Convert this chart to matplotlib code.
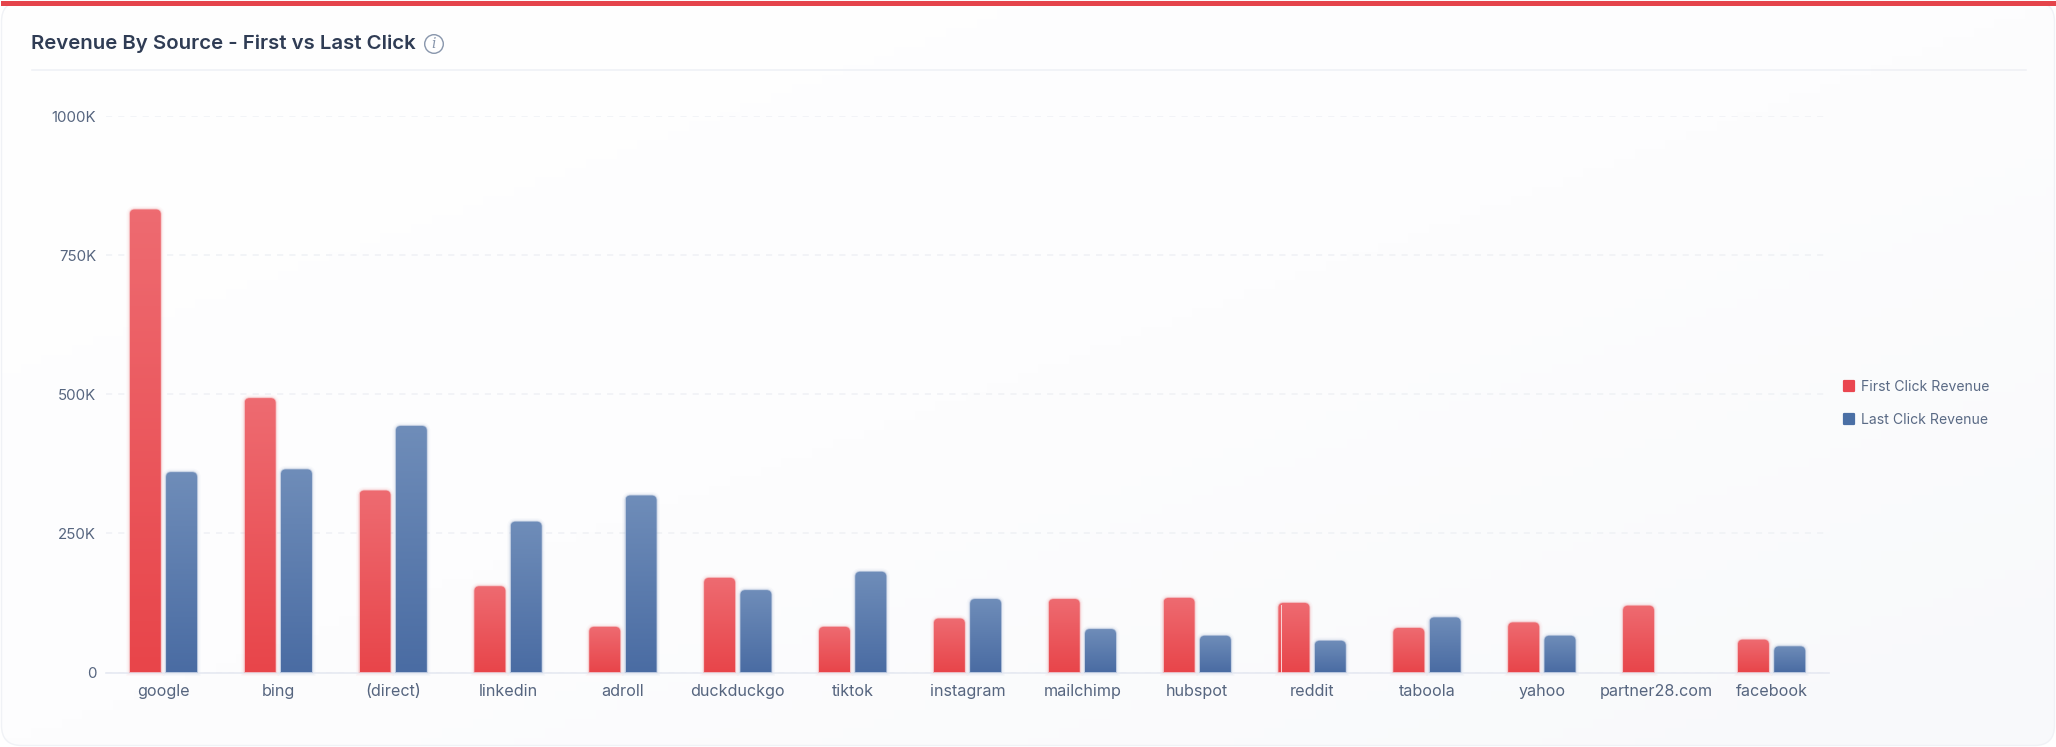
import matplotlib
matplotlib.use('Agg')
import matplotlib.pyplot as plt
import numpy as np
from matplotlib.lines import Line2D
from matplotlib.markers import MarkerStyle
from matplotlib.patches import PathPatch, Rectangle, FancyBboxPatch, Circle
from matplotlib.path import Path
from matplotlib.colors import LinearSegmentedColormap

sources = ['google', 'bing', '(direct)', 'linkedin', 'adroll', 'duckduckgo', 'tiktok', 'instagram',
           'mailchimp', 'hubspot', 'reddit', 'taboola', 'yahoo', 'partner28.com', 'facebook']
first_click = [832, 493, 327, 155, 82, 170, 82, 97, 132, 134, 125, 80, 90, 120, 59]
last_click = [360, 365, 443, 271, 318, 148, 181, 132, 78, 66, 57, 99, 66, 0, 47]
y_ticks = [0, 250, 500, 750, 1000]
y_labels = ['0', '250K', '500K', '750K', '1000K']

W, H = 2056, 747
plt.rcParams['font.family'] = ['Inter', 'DejaVu Sans']
fig = plt.figure(figsize=(W / 100, H / 100), dpi=100)

# page background, full figure in pixel coords
bg = fig.add_axes([0, 0, 1, 1], zorder=0)
bg.set_xlim(0, W)
bg.set_ylim(H, 0)
bg.axis('off')
gx, gy = np.meshgrid(np.linspace(0, 1, 200), np.linspace(0, 1, 80))
cmap_bg = LinearSegmentedColormap.from_list('bg', ['#ffffff', '#fdfdfe', '#f8f9fb'])
card = FancyBboxPatch((1.5, 1.5), W - 3, H - 3, boxstyle='round,pad=0,rounding_size=20',
                      fc='none', ec='#f0f2f6', lw=1.0)
bg.add_patch(card)
im = bg.imshow((gx + gy) / 2, cmap=cmap_bg, extent=[0, W, H, 0], aspect='auto', zorder=1)
im.set_clip_path(card)
bg.set_xlim(0, W)
bg.set_ylim(H, 0)
card.set_zorder(2)
bg.add_patch(Rectangle((1, 1), W - 1, 4.5, color='#e5444b', lw=0, zorder=3))
bg.plot([32, 2026], [70, 70], color='#eef0f5', lw=1.1, zorder=3)
bg.text(31, 43.5, 'Revenue By Source - First vs Last Click', fontsize=14.7, fontweight='semibold',
        color='#2f3c54', va='center', ha='left', zorder=4)
bg.add_patch(Circle((434, 44), 9.3, fc='none', ec='#8795ab', lw=1.0, zorder=4))
bg.text(434, 44, 'i', fontsize=10, style='italic', color='#8795ab', ha='center', va='center',
        family='DejaVu Serif', zorder=4)

ax = fig.add_axes([106 / W, 1 - 672.5 / H, (1829 - 106) / W, (672.5 - 116) / H], zorder=1)
ax.patch.set_alpha(0)
x = np.arange(len(sources))
bar_w = 0.27
off = 0.158
ax.set_xlim(-0.5, len(sources) - 0.5)
ax.set_ylim(0, 1000)

def grad_bar(xc, val, top, bottom, edge):
    # round the top corners, 5px, flat at the baseline
    if val <= 0:
        return
    l, r = xc - bar_w / 2, xc + bar_w / 2
    rx, ry = 5 / 114.87, 5 / 0.5565
    verts = [(l, 0), (l, val - ry), (l, val), (l + rx, val), (r - rx, val), (r, val), (r, val - ry), (r, 0), (l, 0)]
    codes = [Path.MOVETO, Path.LINETO, Path.CURVE3, Path.CURVE3, Path.LINETO, Path.CURVE3, Path.CURVE3,
             Path.LINETO, Path.CLOSEPOLY]
    path = Path(verts, codes)
    for lw, a in [(5, 0.05), (3, 0.10)]:
        ax.add_patch(PathPatch(path, fc='none', ec=edge, lw=lw, alpha=a, zorder=2, clip_on=False))
    patch = PathPatch(path, fc='none', ec=edge, lw=1.2, alpha=0.5, zorder=3)
    ax.add_patch(patch)
    cm = LinearSegmentedColormap.from_list('b', [top, bottom])
    img = ax.imshow(np.linspace(0, 1, 128).reshape(-1, 1), cmap=cm, extent=[l, r, 0, val], origin='upper',
                    aspect='auto', zorder=4)
    img.set_clip_path(PathPatch(path, transform=ax.transData))

for i in x:
    grad_bar(i - off, first_click[i], '#ee6b71', '#e8454a', '#ef8f94')
    grad_bar(i + off, last_click[i], '#6f8db9', '#4a6ca3', '#8ea5c9')

# hairline inside the reddit bar
i = sources.index('reddit')
ax.plot([i - off - bar_w / 2 + 0.024] * 2, [0, first_click[i] - 4], color='#f9d5d7', lw=0.7, zorder=5)

ax.set_xlim(-0.5, len(sources) - 0.5)
ax.set_ylim(0, 1000)
ax.set_yticks(y_ticks)
ax.set_yticklabels(y_labels, fontsize=10.8, color='#56657f')
ax.set_xticks(x)
ax.set_xticklabels(sources, fontsize=11.6, color='#56657f')
ax.tick_params(axis='both', length=0)
ax.tick_params(axis='x', pad=8)
ax.tick_params(axis='y', pad=7)
ax.grid(axis='y', color='#eff1f5', lw=1.1, linestyle=(0, (4, 4)), zorder=1)
ax.set_axisbelow(True)
for s in ['top', 'right', 'left']:
    ax.spines[s].set_visible(False)
ax.spines['bottom'].set_color('#e6e9f2')
ax.spines['bottom'].set_linewidth(1.2)

def handle(c):
    return Line2D([], [], linestyle='none', marker=MarkerStyle('s', joinstyle='round'), markersize=7.5,
                  markerfacecolor=c, markeredgecolor=c, markeredgewidth=1.6)

fig.legend([handle('#ea4650'), handle('#4a6fa5')], ['First Click Revenue', 'Last Click Revenue'],
           loc='center left', bbox_to_anchor=(1829 / W, 1 - 403.5 / H), frameon=False, fontsize=10.1,
           labelcolor='#5a6a85', labelspacing=1.32, handlelength=1.0, handletextpad=0.35)

fig.savefig('out.png', dpi=100)
